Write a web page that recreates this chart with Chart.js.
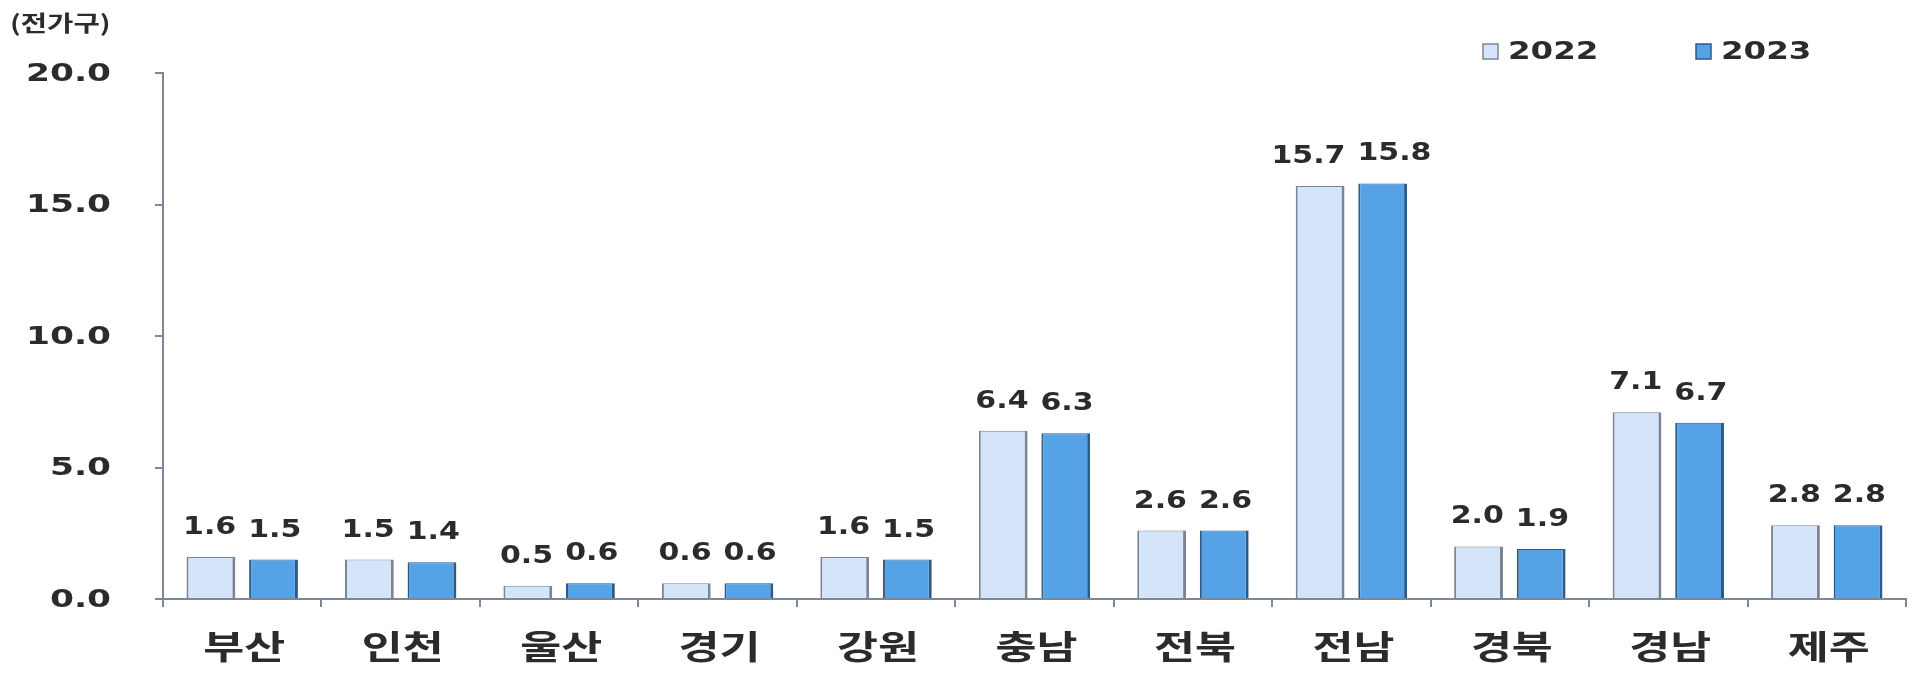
<!DOCTYPE html>
<html>
<head>
<meta charset="utf-8">
<script src="https://cdn.jsdelivr.net/npm/chart.js@4.4.1/dist/chart.umd.min.js"></script>
<style>
    html, body { margin: 0; padding: 0; background: #ffffff; }
    #wrap { width: 1920px; height: 676px; position: relative; }
</style>
</head>
<body>
<div id="wrap"><canvas id="chart"></canvas></div>
<script>
// Data (unit: thousand households)
const regions = ['부산', '인천', '울산', '경기', '강원', '충남', '전북', '전남', '경북', '경남', '제주'];
const values2022 = [1.6, 1.5, 0.5, 0.6, 1.6, 6.4, 2.6, 15.7, 2.0, 7.1, 2.8];
const values2023 = [1.5, 1.4, 0.6, 0.6, 1.5, 6.3, 2.6, 15.8, 1.9, 6.7, 2.8];
const yTicks = [0, 5, 10, 15, 20];
const seriesNames = ['2022', '2023'];
const unitLabel = '(전가구)';

const axisColor = '#7d8798';
const textColor = '#2b2b2b';
const fill2022 = '#d5e5f9';
const edge2022 = '#7c8494';
const fill2023 = '#55a2e6';
const edge2023 = '#2d5a86';

const numFont = '"DejaVu Sans"';
const korFont = '"Noto Sans CJK KR"';
const labelStretch = 1.25;

// the source picture is stretched sideways, so text is drawn wider than tall
function wideText(ctx, text, x, y, align, sx) {
    ctx.save();
    ctx.translate(x, y);
    ctx.scale(sx, 1);
    ctx.textAlign = align;
    ctx.fillText(text, 0, 0);
    ctx.restore();
}

// value labels above each bar, pushed apart when a pair would collide
const valueLabels = {
    id: 'valueLabels',
    afterDatasetsDraw(chart) {
        const ctx = chart.ctx;
        ctx.save();
        ctx.font = 'bold 24px ' + numFont;
        ctx.fillStyle = textColor;
        ctx.textBaseline = 'alphabetic';
        const m0 = chart.getDatasetMeta(0);
        const m1 = chart.getDatasetMeta(1);
        regions.forEach((r, j) => {
            const t0 = values2022[j].toFixed(1);
            const t1 = values2023[j].toFixed(1);
            const b0 = m0.data[j];
            const b1 = m1.data[j];
            const w0 = ctx.measureText(t0).width * labelStretch;
            const w1 = ctx.measureText(t1).width * labelStretch;
            const overlap = (b0.x + w0 / 2) - (b1.x - w1 / 2) + 12;
            const shift = overlap > 0 ? overlap / 2 : 0;
            wideText(ctx, t0, b0.x - shift, b0.y - 23, 'center', labelStretch);
            wideText(ctx, t1, b1.x + shift, b1.y - 23, 'center', labelStretch);
        });
        ctx.restore();
    }
};

// axis labels, unit label and legend
const textBits = {
    id: 'textBits',
    afterDraw(chart) {
        const ctx = chart.ctx;
        const xs = chart.scales.x;
        const ys = chart.scales.y;
        ctx.save();
        ctx.fillStyle = textColor;
        ctx.textBaseline = 'middle';

        ctx.font = 'bold 25px ' + numFont;
        yTicks.forEach(v => {
            wideText(ctx, v.toFixed(1), 111, ys.getPixelForValue(v) + 1, 'right', 1.38);
        });

        ctx.font = 'bold 33px ' + korFont;
        regions.forEach((r, i) => {
            wideText(ctx, r, xs.getPixelForValue(i) + 2, 646, 'center', 1.35);
        });

        ctx.font = 'bold 22px ' + korFont;
        wideText(ctx, unitLabel, 10, 23, 'left', 1.3);

        const items = [
            { x: 1483, fill: fill2022, edge: edge2022 },
            { x: 1696, fill: fill2023, edge: edge2023 }
        ];
        ctx.font = 'bold 25px ' + numFont;
        items.forEach((it, i) => {
            ctx.fillStyle = it.fill;
            ctx.fillRect(it.x, 44, 15, 15);
            ctx.strokeStyle = it.edge;
            ctx.lineWidth = 1.5;
            ctx.strokeRect(it.x, 44, 15, 15);
            ctx.fillStyle = textColor;
            wideText(ctx, seriesNames[i], it.x + 25, 52, 'left', 1.3);
        });
        ctx.restore();
    }
};

function makeDataset(label, data, fill, edge) {
    return {
        label: label,
        data: data,
        backgroundColor: fill,
        borderColor: edge,
        borderWidth: { left: 2, right: 3, top: 1, bottom: 0 },
        borderSkipped: 'bottom',
        categoryPercentage: 0.79,
        barPercentage: 0.78
    };
}

document.addEventListener('DOMContentLoaded', function () {
    const ctx = document.getElementById('chart').getContext('2d');
    new Chart(ctx, {
        type: 'bar',
        data: {
            labels: regions,
            datasets: [
                makeDataset(seriesNames[0], values2022, fill2022, edge2022),
                makeDataset(seriesNames[1], values2023, fill2023, edge2023)
            ]
        },
        options: {
            responsive: true,
            maintainAspectRatio: false,
            animation: false,
            layout: { padding: { top: 73, right: 14, left: 0, bottom: 0 } },
            plugins: {
                legend: { display: false },
                tooltip: { enabled: false }
            },
            scales: {
                x: {
                    offset: true,
                    grid: {
                        offset: true,
                        drawOnChartArea: false,
                        drawTicks: true,
                        tickLength: 8,
                        color: axisColor,
                        lineWidth: 2
                    },
                    border: { color: axisColor, width: 2 },
                    ticks: { color: 'rgba(0,0,0,0)' },
                    afterFit(scale) { scale.height = 77; }
                },
                y: {
                    min: 0,
                    max: 20,
                    afterBuildTicks(scale) {
                        scale.ticks = yTicks.map(v => ({ value: v }));
                    },
                    grid: {
                        drawOnChartArea: false,
                        tickLength: 8,
                        color: axisColor,
                        lineWidth: 2
                    },
                    border: { color: axisColor, width: 2 },
                    ticks: { color: 'rgba(0,0,0,0)' },
                    afterFit(scale) { scale.width = 163; }
                }
            }
        },
        plugins: [valueLabels, textBits]
    });
});
</script>
</body>
</html>
